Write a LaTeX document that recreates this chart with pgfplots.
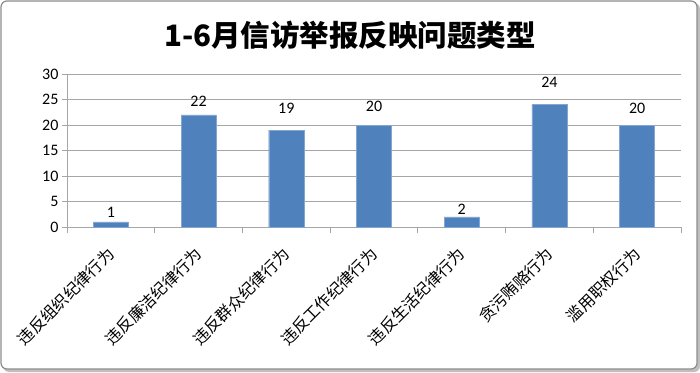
\documentclass[border=0pt]{standalone}
\usepackage{fontspec}
\setmainfont{Carlito}
\newfontfamily\cjk{Noto Sans CJK SC}
\usepackage{pgfplots}
\usepackage{pgfplotstable}
\pgfplotsset{compat=1.18}
\definecolor{barblue}{HTML}{4F81BD}
\definecolor{gridgray}{HTML}{A6A6A6}
\pgfplotstableread{
x y off
0 1 1
1 22 5
2 19 13
3 20 10
4 2 -1
5 24 14
6 20 8
}\datatable
\begin{document}
\begin{tikzpicture}
\path[use as bounding box] (0,0) rectangle (700pt,372pt);
\fill[black!25,rounded corners=6pt] (3pt,0pt) rectangle (700pt,369pt);
\draw[fill=white, draw=black!45, line width=1.2pt, rounded corners=6pt] (1pt,3pt) rectangle (697pt,371pt);
\node[font=\cjk\bfseries\fontsize{29.5}{32}\selectfont] at (350pt,337pt) {1-6月信访举报反映问题类型};
\begin{axis}[
  at={(67pt,145pt)}, anchor=south west,
  scale only axis, width=614pt, height=153pt,
  xmin=-0.5, xmax=6.5, ymin=0, ymax=30,
  ytick={0,5,...,30},
  xtick={0,...,6},
  minor xtick={-0.5,0.5,...,6.5},
  xticklabels={违反组织纪律行为,违反廉洁纪律行为,违反群众纪律行为,违反工作纪律行为,违反生活纪律行为,贪污贿赂行为,滥用职权行为},
  axis x line*=bottom, axis y line*=left,
  axis line style={-, draw=gridgray, line width=0.8pt},
  ymajorgrids, grid style={draw=gridgray, line width=0.8pt},
  tick align=outside,
  major tick length=5pt, minor tick length=6pt,
  major x tick style={draw=none},
  minor x tick style={draw=gridgray, line width=0.8pt},
  major y tick style={draw=gridgray, line width=0.8pt},
  /pgf/number format/assume math mode=true,
  y tick label style={font=\fontsize{16}{18}\selectfont},
  x tick label style={font=\cjk\fontsize{16}{18}\selectfont, xshift=-5pt, yshift=-9pt, rotate=45, anchor=north east},
  ybar, bar width=0.4,
  visualization depends on={\thisrow{off} \as \off},
  nodes near coords,
  nodes near coords style={font=\fontsize{16}{18}\selectfont, color=black, yshift=\off pt},
]
\addplot[fill=barblue, draw=barblue!70!white] table[x=x, y=y] {\datatable};
\end{axis}
\end{tikzpicture}
\end{document}
